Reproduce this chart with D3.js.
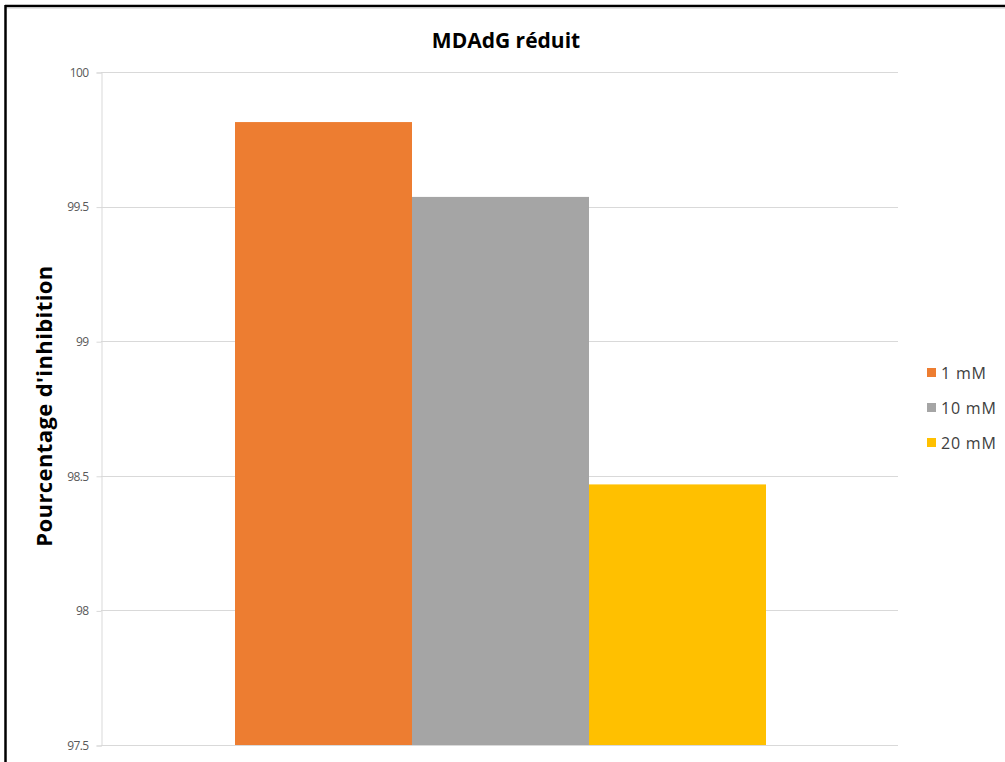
<!DOCTYPE html>
<html><head><meta charset="utf-8">
<script src="https://cdn.jsdelivr.net/npm/d3@7"></script>
<style>body{margin:0;background:#fff;}svg{display:block;}</style>
</head><body>
<script>
const categories = ["1 mM", "10 mM", "20 mM"];
const values = [99.814, 99.536, 98.468];
const colors = ["#ED7D31", "#A5A5A5", "#FFC000"];
const yTicks = [97.5, 98, 98.5, 99, 99.5, 100];
const title = "MDAdG réduit";
const yTitle = "Pourcentage d'inhibition";

const W = 1005, H = 762;
const svg = d3.select("body").append("svg").attr("width", W).attr("height", H);
svg.append("rect").attr("width", W).attr("height", H).attr("fill", "#fff");
// outer border
svg.append("line").attr("x1", 5).attr("x2", W).attr("y1", 6).attr("y2", 6).attr("stroke", "#000").attr("stroke-width", 2.5);
svg.append("line").attr("x1", 5.5).attr("x2", 5.5).attr("y1", 5).attr("y2", H).attr("stroke", "#000").attr("stroke-width", 2.5);
svg.append("line").attr("x1", 7).attr("x2", W).attr("y1", 8).attr("y2", 8).attr("stroke", "#ccc").attr("stroke-width", 1);

const m = {left: 101, right: 898, top: 72, bottom: 745};
const y = d3.scaleLinear().domain([97.5, 100]).range([m.bottom, m.top]);
const x = d3.scaleBand().domain(categories).range([235, 766]).padding(0);

// gridlines
svg.append("g").selectAll("line").data(yTicks).join("line")
  .attr("x1", m.left).attr("x2", m.right)
  .attr("y1", d => Math.round(y(d)) + 0.5).attr("y2", d => Math.round(y(d)) + 0.5)
  .attr("stroke", "#d9d9d9").attr("stroke-width", 1);

// y axis
const yAxis = d3.axisLeft(y).tickValues(yTicks).tickSize(5).tickPadding(8).tickFormat(d3.format("~g"));
const ga = svg.append("g").attr("transform", `translate(${m.left + 0.5},0.5)`).call(yAxis);
ga.select(".domain").attr("stroke", "#d9d9d9");
ga.selectAll(".tick line").attr("stroke", "#d9d9d9");
ga.selectAll(".tick text").attr("fill", "#595959")
  .style("font-family", "'Open Sans', sans-serif").style("font-size", "12px").style("letter-spacing", "-0.6px");

// bars
svg.append("g").selectAll("rect").data(categories).join("rect")
  .attr("x", d => x(d)).attr("width", x.bandwidth())
  .attr("y", (d, i) => y(values[i])).attr("height", (d, i) => y(97.5) - y(values[i]))
  .attr("fill", (d, i) => colors[i]);

// title
svg.append("text").attr("x", 506).attr("y", 48).attr("text-anchor", "middle")
  .style("font-family", "'Open Sans', sans-serif").style("font-weight", "bold").style("font-size", "21px")
  .attr("fill", "#000").text(title);

// y title
svg.append("text").attr("transform", "translate(52,406) rotate(-90)").attr("text-anchor", "middle")
  .style("font-family", "'Open Sans', sans-serif").style("font-weight", "bold").style("font-size", "22px")
  .style("letter-spacing", "0.4px")
  .attr("fill", "#000").text(yTitle);

// legend
const lg = svg.append("g").selectAll("g").data(categories).join("g")
  .attr("transform", (d, i) => `translate(927,${368 + i * 35})`);
lg.append("rect").attr("width", 9).attr("height", 9).attr("fill", (d, i) => colors[i]);
lg.append("text").attr("x", 14).attr("y", 10.5).attr("fill", "#404040")
  .style("font-family", "'Open Sans', sans-serif").style("font-size", "16px").style("letter-spacing", "0.8px").text(d => d);
</script>
</body></html>
